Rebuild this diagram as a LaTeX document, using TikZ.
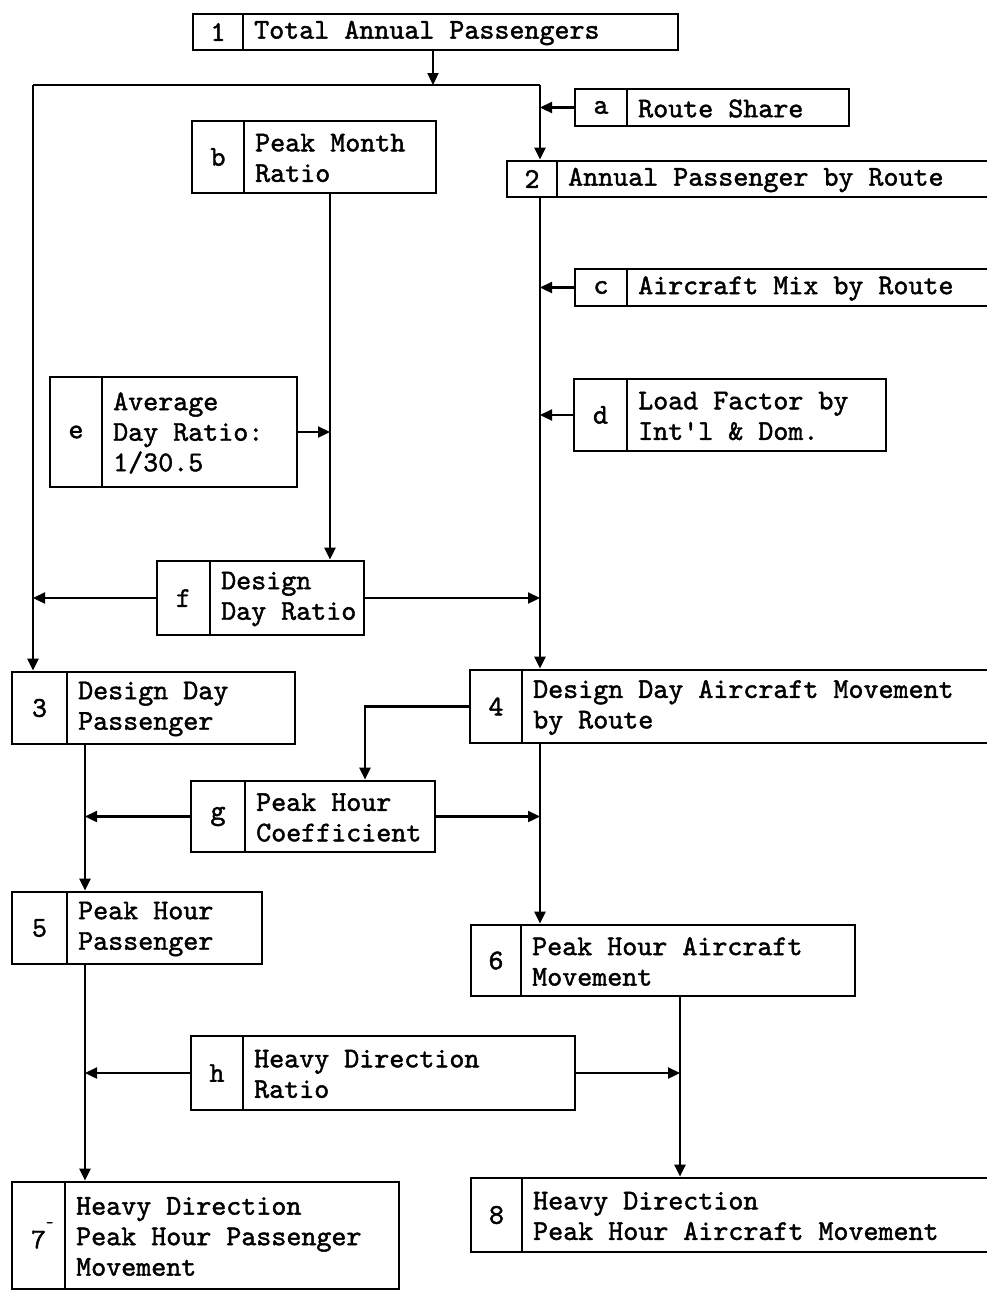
\documentclass[tikz,border=0pt]{standalone}
\usepackage{fontspec}
\usetikzlibrary{arrows.meta,fit}
\newfontfamily\flowfam{lmmono10-regular.otf}[FakeBold=1.5]
\tikzset{
  boxst/.style={draw, line width=2.7pt, inner sep=0pt, rectangle},
  boxline/.style={line width=2pt},
  lab/.style={inner sep=0pt, font=\flowfont},
  txt/.style={inner sep=0pt, anchor=west, align=left, font=\flowfont},
  conn/.style={line width=2.3pt},
  arr/.style={line width=2.3pt, -{Triangle[length=12pt,width=11pt]}},
}
\newcommand\flowfont{\flowfam\fontsize{28.6}{30.5}\selectfont}
\newcommand\flowbox[8]{%
  \node[boxst, fit={(#2,#3) (#4,#5)}] (#1) {};
  \draw[boxline] (#6,#3) -- (#6,#5);
  \node[lab] (#1-l) at ({(#2+#6)/2},{(#3+#5)/2}) {#7};
  \node[txt] (#1-t) at ({#6+11},{(#3+#5)/2+1}) {#8};
}
\begin{document}
\begin{tikzpicture}[x=1pt,y=-1pt]
\fill[white] (0,0) rectangle (987,1291);
\useasboundingbox (0,0) rectangle (987,1291);
\clip (0,0) rectangle (987,1291);

\flowbox{n1}{193}{14}{678}{50}{243}{1}{Total Annual Passengers}
\flowbox{na}{575}{89}{849}{126}{627}{a}{Route Share}
\flowbox{n2}{507}{161}{1000}{197}{557}{2}{Annual Passenger by Route}
\flowbox{nb}{192}{121}{436}{193}{244}{b}{Peak Month\\Ratio}
\flowbox{nc}{575}{269}{1000}{306}{627}{c}{Aircraft Mix by Route}
\flowbox{nd}{574}{379}{886}{451}{627}{d}{Load Factor by\\Int\textquotesingle l \& Dom.}
\flowbox{ne}{50}{377}{297}{487}{102}{e}{Average\\Day Ratio:\\1/30.5}
\flowbox{nf}{157}{561}{364}{635}{210}{f}{Design\\Day Ratio}
\flowbox{n3}{12}{672}{295}{744}{67}{3}{Design Day\\Passenger}
\flowbox{n4}{470}{670}{1000}{743}{522}{4}{Design Day Aircraft Movement\\by Route}
\flowbox{ng}{191}{781}{435}{852}{245}{g}{Peak Hour\\Coefficient}
\flowbox{n5}{12}{892}{262}{964}{67}{5}{Peak Hour\\Passenger}
\flowbox{n6}{471}{925}{855}{996}{521}{6}{Peak Hour Aircraft\\Movement}
\flowbox{nh}{191}{1036}{575}{1110}{243}{h}{Heavy Direction\\Ratio}
\flowbox{n7}{12}{1182}{399}{1289}{65}{7\rlap{\raisebox{0.75em}{\fontsize{14}{14}\selectfont -}}}{Heavy Direction\\Peak Hour Passenger\\Movement}
\flowbox{n8}{471}{1178}{1000}{1252}{522}{8}{Heavy Direction\\Peak Hour Aircraft Movement}

% junction coordinates
\coordinate (j1) at (433,85);
\coordinate (tl) at (33,85);
\coordinate (tr) at (540,85);
\coordinate (bx) at (330,0);
\coordinate (gx) at (365,0);
\coordinate (lx) at (85,0);
\coordinate (hx) at (680,0);

% top distribution
\draw[arr] (n1.south -| j1) -- (j1);
\draw[conn] (tl) -- (tr);
\draw[arr] (tl) -- (n3.north -| tl);
\draw[arr] (tr) -- (n2.north -| tr);
\draw[arr] (na.west) -- (na.west -| tr);

% peak month / average day to design day ratio
\draw[arr] (nb.south -| bx) -- (nf.north -| bx);
\draw[arr] (ne.east) -- (ne.east -| bx);

% route chain
\draw[arr] (n2.south -| tr) -- (n4.north -| tr);
\draw[arr] (nc.west) -- (nc.west -| tr);
\draw[arr] (nd.west) -- (nd.west -| tr);

% design day ratio
\draw[arr] (nf.west) -- (nf.west -| tl);
\draw[arr] (nf.east) -- (nf.east -| tr);

% peak hour coefficient
\draw[arr] (n4.west) -| (ng.north -| gx);
\draw[arr] (ng.west) -- (ng.west -| lx);
\draw[arr] (ng.east) -- (ng.east -| tr);
\draw[arr] (n3.south -| lx) -- (n5.north -| lx);
\draw[arr] (n4.south -| tr) -- (n6.north -| tr);

% heavy direction
\draw[arr] (n5.south -| lx) -- (n7.north -| lx);
\draw[arr] (n6.south -| hx) -- (n8.north -| hx);
\draw[arr] (nh.west) -- (nh.west -| lx);
\draw[arr] (nh.east) -- (nh.east -| hx);
\end{tikzpicture}
\end{document}
